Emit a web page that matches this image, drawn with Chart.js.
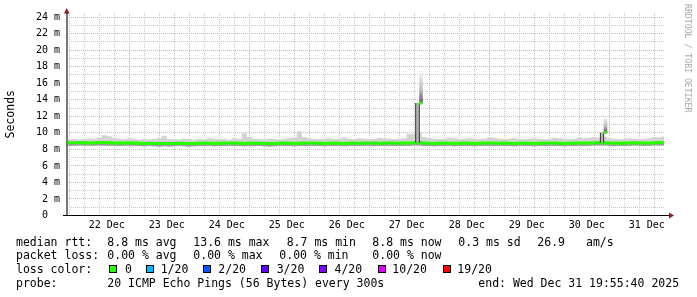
<!DOCTYPE html>
<html>
<head>
<meta charset="utf-8">
<script src="https://cdn.jsdelivr.net/npm/chart.js@4.4.1/dist/chart.umd.min.js"></script>
<style>
  html, body { margin: 0; padding: 0; background: #fff; }
  #wrap { position: relative; width: 697px; height: 297px; overflow: hidden; }
  #smoke { position: absolute; left: 0; top: 0; }
  .t { position: absolute; font: 11.5px "DejaVu Sans Mono", monospace; line-height: 12px; color: #000; white-space: pre; }
  .box { position: absolute; top: 265px; width: 6px; height: 6px; border: 1px solid #000; }
  .mark { position: absolute; left: 683px; top: 4px; writing-mode: vertical-rl; font: 8.2px "DejaVu Sans Mono", monospace; line-height: 10px; color: #aaaaaa; white-space: pre; }
</style>
</head>
<body>
<div id="wrap">
  <canvas id="smoke" width="697" height="297"></canvas>

  <span class="t" style="left:16px;top:235.5px">median rtt:</span>
  <span class="t" style="left:107.3px;top:235.5px">8.8 ms avg</span>
  <span class="t" style="left:193.3px;top:235.5px">13.6 ms max</span>
  <span class="t" style="left:286.7px;top:235.5px">8.7 ms min</span>
  <span class="t" style="left:372.3px;top:235.5px">8.8 ms now</span>
  <span class="t" style="left:458.3px;top:235.5px">0.3 ms sd</span>
  <span class="t" style="left:537.3px;top:235.5px">26.9</span>
  <span class="t" style="left:586px;top:235.5px">am/s</span>

  <span class="t" style="left:16px;top:249.2px">packet loss:</span>
  <span class="t" style="left:107.3px;top:249.2px">0.00 % avg</span>
  <span class="t" style="left:193.3px;top:249.2px">0.00 % max</span>
  <span class="t" style="left:279.3px;top:249.2px">0.00 % min</span>
  <span class="t" style="left:372.3px;top:249.2px">0.00 % now</span>

  <span class="t" style="left:16px;top:262.9px">loss color:</span>
  <i class="box" style="left:109px;background:#26ff00"></i>
  <span class="t" style="left:125px;top:262.9px">0</span>
  <i class="box" style="left:145.7px;background:#00b8ff"></i>
  <span class="t" style="left:160.7px;top:262.9px">1/20</span>
  <i class="box" style="left:203.3px;background:#0059ff"></i>
  <span class="t" style="left:218.3px;top:262.9px">2/20</span>
  <i class="box" style="left:261.3px;background:#5e00ff"></i>
  <span class="t" style="left:276.7px;top:262.9px">3/20</span>
  <i class="box" style="left:319.3px;background:#7e00ff"></i>
  <span class="t" style="left:334.5px;top:262.9px">4/20</span>
  <i class="box" style="left:377.7px;background:#dd00ff"></i>
  <span class="t" style="left:392.3px;top:262.9px">10/20</span>
  <i class="box" style="left:442.7px;background:#ff0000"></i>
  <span class="t" style="left:457.3px;top:262.9px">19/20</span>

  <span class="t" style="left:16px;top:276.6px">probe:</span>
  <span class="t" style="left:107.3px;top:276.6px">20 ICMP Echo Pings (56 Bytes) every 300s</span>
  <span class="t" style="left:478.3px;top:276.6px">end: Wed Dec 31 19:55:40 2025</span>

  <div class="mark">RRDTOOL / TOBI OETIKER</div>
</div>

<script>
// hours are counted from 22 Dec 00:00, one value per 2 hour bin
const BIN_START = -4;
const BIN_HOURS = 2;

const dayLabels = ["22 Dec", "23 Dec", "24 Dec", "25 Dec", "26 Dec",
  "27 Dec", "28 Dec", "29 Dec", "30 Dec", "31 Dec"];

// median rtt in ms
const medianRtt = [
  8.80, 8.80, 8.82, 8.80, 8.78, 8.80, 8.82, 8.82, 8.80, 8.78,
  8.76, 8.78, 8.80, 8.78, 8.74, 8.72, 8.74, 8.72, 8.70, 8.72,
  8.70, 8.72, 8.74, 8.72, 8.70, 8.72, 8.74, 8.76, 8.74, 8.72,
  8.74, 8.76, 8.78, 8.76, 8.74, 8.72, 8.74, 8.76, 8.74, 8.72,
  8.70, 8.72, 8.74, 8.76, 8.74, 8.72, 8.74, 8.76, 8.78, 8.76,
  8.74, 8.72, 8.74, 8.76, 8.74, 8.72, 8.74, 8.76, 8.74, 8.76,
  8.78, 8.76, 8.74, 8.76, 8.78, 8.76, 8.74, 8.76, 8.78, 8.80,
  8.80, 8.76, 8.74, 8.72, 8.74, 8.76, 8.74, 8.72, 8.74, 8.76,
  8.74, 8.72, 8.74, 8.76, 8.78, 8.76, 8.74, 8.76, 8.74, 8.72,
  8.74, 8.76, 8.74, 8.72, 8.74, 8.76, 8.78, 8.76, 8.74, 8.72,
  8.74, 8.76, 8.78, 8.76, 8.78, 8.80, 8.82, 8.80, 8.78, 8.76,
  8.74, 8.76, 8.78, 8.80, 8.78, 8.76, 8.78, 8.80, 8.82, 8.80, 8.80
];

// top of the smoke (slowest pings) in ms
const smokeHigh = [
  9.25, 9.30, 9.20, 9.25, 9.35, 9.30, 9.40, 9.70, 9.60, 9.35,
  9.30, 9.25, 9.35, 9.30, 9.20, 9.25, 9.20, 9.30, 9.35, 9.65,
  9.30, 9.25, 9.20, 9.30, 9.25, 9.20, 9.30, 9.25, 9.35, 9.30,
  9.25, 9.30, 9.20, 9.35, 9.30, 9.95, 9.50, 9.30, 9.25, 9.20,
  9.30, 9.25, 9.20, 9.30, 9.35, 9.40, 10.20, 9.50, 9.35, 9.30,
  9.25, 9.30, 9.35, 9.25, 9.30, 9.45, 9.30, 9.25, 9.35, 9.30,
  9.25, 9.30, 9.40, 9.35, 9.30, 9.25, 9.30, 9.35, 9.90, 9.85,
  10.10, 9.50, 9.35, 9.30, 9.25, 9.30, 9.40, 9.35, 9.25, 9.30,
  9.35, 9.30, 9.25, 9.30, 9.45, 9.40, 9.30, 9.25, 9.30, 9.35,
  9.30, 9.25, 9.30, 9.35, 9.30, 9.25, 9.30, 9.40, 9.35, 9.30,
  9.25, 9.30, 9.45, 9.35, 9.40, 9.50, 9.40, 9.50, 9.35, 9.30,
  9.25, 9.30, 9.35, 9.30, 9.25, 9.30, 9.35, 9.50, 9.45, 9.55, 9.55
];

// bottom of the smoke (fastest pings) in ms
const smokeLow = [
  8.45, 8.44, 8.46, 8.45, 8.43, 8.45, 8.46, 8.44, 8.45, 8.43,
  8.42, 8.44, 8.45, 8.43, 8.40, 8.38, 8.40, 8.38, 8.36, 8.38,
  8.36, 8.38, 8.40, 8.38, 8.36, 8.38, 8.40, 8.42, 8.40, 8.38,
  8.40, 8.42, 8.44, 8.42, 8.40, 8.38, 8.40, 8.42, 8.40, 8.38,
  8.36, 8.38, 8.40, 8.42, 8.40, 8.38, 8.40, 8.42, 8.44, 8.42,
  8.40, 8.38, 8.40, 8.42, 8.40, 8.38, 8.40, 8.42, 8.40, 8.42,
  8.44, 8.42, 8.40, 8.42, 8.44, 8.42, 8.40, 8.42, 8.44, 8.46,
  8.46, 8.42, 8.40, 8.38, 8.40, 8.42, 8.40, 8.38, 8.40, 8.42,
  8.40, 8.38, 8.40, 8.42, 8.44, 8.42, 8.40, 8.42, 8.40, 8.38,
  8.40, 8.42, 8.40, 8.38, 8.40, 8.42, 8.44, 8.42, 8.40, 8.38,
  8.40, 8.42, 8.44, 8.42, 8.44, 8.46, 8.48, 8.46, 8.44, 8.42,
  8.40, 8.42, 8.44, 8.46, 8.44, 8.42, 8.44, 8.46, 8.48, 8.46, 8.46
];

// the two short latency spikes
const spikeHours = [137.1, 210.9];
const spikeBase = [8.8, 8.8];
const spikeMedian = [13.6, 10.05];
const spikeTop = [17.2, 11.8];

const LOSS0 = "#26ff00";
const MGRID = "#f0aaaa";
const GRID = "#c8c8c8";

const binPoints = (values) =>
  values.map((y, i) => ({ x: BIN_START + i * BIN_HOURS, y: y }));

function lineSet(values, extra) {
  return Object.assign({
    data: binPoints(values),
    stepped: true,
    pointRadius: 0,
    borderWidth: 0,
    fill: false,
  }, extra);
}

// axis lines + the little red arrows like rrdtool draws them
const axisArrows = {
  id: "axisArrows",
  afterDraw(chart) {
    const { ctx, chartArea: a } = chart;
    const yb = Math.floor(a.bottom);
    ctx.save();
    ctx.fillStyle = "#777777";
    ctx.fillRect(Math.round(a.left) - 1, a.top - 1, 2, yb - a.top + 1);
    ctx.fillStyle = "#000000";
    ctx.fillRect(Math.round(a.left) - 4, yb, a.right - a.left + 10, 1);
    ctx.fillStyle = "#8b1c1c";
    ctx.beginPath();
    ctx.moveTo(a.left - 0.3, a.top - 5);
    ctx.lineTo(a.left - 3, a.top + 0.5);
    ctx.lineTo(a.left + 2.5, a.top + 0.5);
    ctx.closePath();
    ctx.fill();
    ctx.beginPath();
    ctx.moveTo(a.right + 10, yb + 0.5);
    ctx.lineTo(a.right + 5, yb - 2.5);
    ctx.lineTo(a.right + 5, yb + 3.5);
    ctx.closePath();
    ctx.fill();
    ctx.restore();
  },
};

function spikeSmokeColour(c) {
  const sy = c.chart.scales.y;
  if (!c.raw || !sy || !c.chart.chartArea) return "#c8c8c8";
  const top = sy.getPixelForValue(c.raw.y[1]);
  const bottom = sy.getPixelForValue(c.raw.y[0]);
  if (!isFinite(top) || !isFinite(bottom) || top === bottom) return "#c8c8c8";
  const g = c.chart.ctx.createLinearGradient(0, top, 0, bottom);
  g.addColorStop(0, "#f0f0f0");
  g.addColorStop(0.55, "#bdbdbd");
  g.addColorStop(1, "#5a5a5a");
  return g;
}

Chart.defaults.font.family = "'DejaVu Sans Mono', monospace";
Chart.defaults.color = "#000";

new Chart(document.getElementById("smoke"), {
  type: "line",
  data: {
    datasets: [
      lineSet(smokeLow, { order: 6 }),
      lineSet(smokeHigh, { order: 5, fill: "-1", backgroundColor: "#d2d2d2" }),
      lineSet(medianRtt, {
        order: 4,
        fill: 0,
        backgroundColor: "#9c9c9c",
        borderColor: LOSS0,
        borderWidth: 3,
        borderJoinStyle: "miter",
      }),
      {
        type: "bar",
        order: 3,
        data: spikeHours.map((x, i) => ({ x: x, y: [spikeMedian[i], spikeTop[i]] })),
        barThickness: 3,
        backgroundColor: spikeSmokeColour,
        borderWidth: 0,
      },
      {
        type: "bar",
        order: 2,
        data: spikeHours.map((x, i) => ({ x: x, y: [spikeBase[i], spikeMedian[i]] })),
        barThickness: 4,
        backgroundColor: "#b4b4b4",
        borderColor: "#111111",
        borderWidth: { left: 1, right: 1, top: 0, bottom: 0 },
        borderSkipped: false,
      },
      {
        type: "scatter",
        order: 1,
        data: spikeHours.map((x, i) => ({ x: x + 0.3, y: spikeMedian[i] })),
        pointStyle: "rect",
        pointRadius: 2.2,
        pointBorderWidth: 0,
        backgroundColor: LOSS0,
        showLine: false,
      },
    ],
  },
  options: {
    responsive: false,
    animation: false,
    events: [],
    layout: { padding: { top: 13, right: 33, left: 0, bottom: 0 } },
    scales: {
      x: {
        type: "linear",
        min: -3.9,
        max: 234.9,
        offset: false,
        afterBuildTicks: (scale) => {
          const ticks = [];
          for (let h = 0; h <= 234; h += 6) ticks.push({ value: h });
          scale.ticks = ticks;
        },
        afterFit: (scale) => {
          scale.height = 81.5;
        },
        grid: {
          color: (c) => (c.tick && c.tick.value % 24 === 0 ? MGRID : GRID),
          lineWidth: 1,
          drawTicks: false,
        },
        border: { display: false, dash: [1, 1] },
        ticks: {
          autoSkip: false,
          maxRotation: 0,
          padding: 4,
          font: { size: 10 },
          color: "#000",
          callback: (v) => (v % 24 === 12 ? dayLabels[(v - 12) / 24] : ""),
        },
      },
      y: {
        min: 0,
        max: 24.5,
        afterBuildTicks: (scale) => {
          const ticks = [];
          for (let v = 0; v <= 24; v += 1) ticks.push({ value: v });
          scale.ticks = ticks;
        },
        afterFit: (scale) => {
          scale.width = 67;
        },
        grid: {
          color: (c) => (c.tick && c.tick.value % 2 === 0 ? MGRID : GRID),
          lineWidth: 1,
          drawTicks: false,
        },
        border: { display: false, dash: [1, 1] },
        ticks: {
          autoSkip: false,
          padding: 7,
          font: { size: 10 },
          color: "#000",
          callback: (v) => (v % 2 !== 0 ? "" : v === 0 ? "0  " : v + " m"),
        },
        title: {
          display: true,
          text: "Seconds",
          color: "#000",
          font: { size: 11.5 },
          padding: { top: 4, bottom: 0 },
        },
      },
    },
    plugins: {
      legend: { display: false },
      tooltip: { enabled: false },
    },
  },
  plugins: [axisArrows],
});
</script>
</body>
</html>
